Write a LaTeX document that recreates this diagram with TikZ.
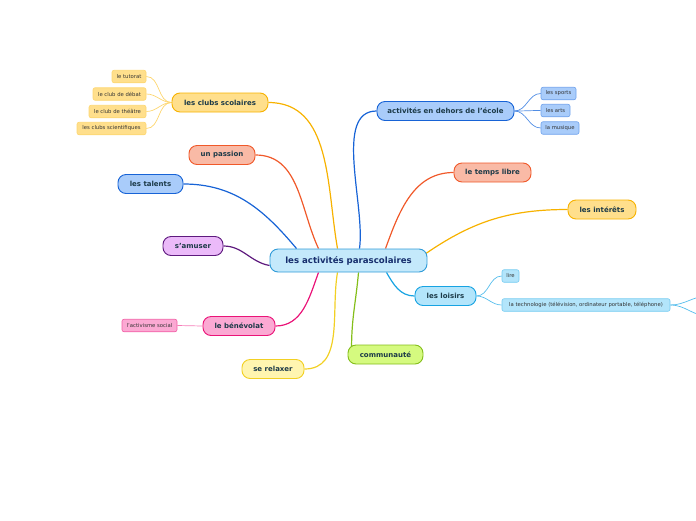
\documentclass[tikz,border=0pt]{standalone}
\usepackage{fontspec}
\setmainfont{DejaVu Sans}
\usetikzlibrary{backgrounds}

\begin{document}
\begin{tikzpicture}[x=1pt, y=-1pt,
    topic/.style={draw, rounded corners=8pt, line width=0.9pt, text=textColour,
        font=\fontsize{7}{8}\selectfont\bfseries, minimum height=19pt, inner sep=0pt},
    subtopic/.style={draw, rounded corners=2pt, line width=0.6pt, text=subTextColour,
        font=\fontsize{5.3}{6}\selectfont, minimum height=12.5pt, inner sep=0pt},
    link/.style={line width=1.2pt},
    sublink/.style={line width=0.7pt}]

    % Define colours
    \definecolor{textColour}{HTML}{1C3A48}
    \definecolor{subTextColour}{HTML}{333333}
    \definecolor{centreFill}{HTML}{C4E9FB}
    \definecolor{centreBorder}{HTML}{2F9BD8}
    \definecolor{orangeFill}{HTML}{FFDF8C}
    \definecolor{orangeBorder}{HTML}{F7B200}
    \definecolor{salmonFill}{HTML}{F9BAA6}
    \definecolor{salmonBorder}{HTML}{F0592A}
    \definecolor{blueFill}{HTML}{A9CCFA}
    \definecolor{blueBorder}{HTML}{1763D6}
    \definecolor{purpleFill}{HTML}{EBBAF9}
    \definecolor{purpleBorder}{HTML}{5E1A7E}
    \definecolor{pinkFill}{HTML}{FBA9D3}
    \definecolor{pinkBorder}{HTML}{EA1478}
    \definecolor{yellowFill}{HTML}{FFF5B0}
    \definecolor{yellowBorder}{HTML}{F2D023}
    \definecolor{greenFill}{HTML}{D5FA7F}
    \definecolor{greenBorder}{HTML}{84BE1A}
    \definecolor{skyFill}{HTML}{B3E5FB}
    \definecolor{skyBorder}{HTML}{17A3E2}

    % Page size
    \useasboundingbox (0,0) rectangle (696,520);

    % Central topic
    \node[topic, fill=centreFill, draw=centreBorder, minimum width=157pt, minimum height=23pt,
        font=\fontsize{8.6}{10}\selectfont\bfseries, text=textColour!80!blue] (centre) at (348.5,260.5)
        {les activités parascolaires};

    % Main topics
    \node[topic, fill=orangeFill, draw=orangeBorder, minimum width=96pt] (clubs) at (220,102.5) {les clubs scolaires};
    \node[topic, fill=salmonFill, draw=salmonBorder, minimum width=66pt] (passion) at (222,155) {un passion};
    \node[topic, fill=blueFill, draw=blueBorder, minimum width=65pt] (talents) at (150.5,184) {les talents};
    \node[topic, fill=purpleFill, draw=purpleBorder, minimum width=60pt] (amuser) at (193,246) {s'amuser};
    \node[topic, fill=pinkFill, draw=pinkBorder, minimum width=72pt] (benevolat) at (239,326) {le bénévolat};
    \node[topic, fill=yellowFill, draw=yellowBorder, minimum width=62pt] (relaxer) at (273,369) {se relaxer};
    \node[topic, fill=greenFill, draw=greenBorder, minimum width=75pt] (communaute) at (385.5,354.5) {communauté};
    \node[topic, fill=skyFill, draw=skyBorder, minimum width=61pt] (loisirs) at (445.5,296) {les loisirs};
    \node[topic, fill=orangeFill, draw=orangeBorder, minimum width=68pt] (interets) at (602,209.5) {les intérêts};
    \node[topic, fill=salmonFill, draw=salmonBorder, minimum width=77pt] (tempslibre) at (492.5,172.5) {le temps libre};
    \node[topic, fill=blueFill, draw=blueBorder, minimum width=137pt] (dehors) at (445.5,111) {activités en dehors de l'école};

    % Subtopics of les clubs scolaires
    \node[subtopic, fill=orangeFill, draw=orangeFill!80!orangeBorder, minimum width=34pt] (tutorat) at (129,76.5) {le tutorat};
    \node[subtopic, fill=orangeFill, draw=orangeFill!80!orangeBorder, minimum width=53pt] (debat) at (119.5,94) {le club de débat};
    \node[subtopic, fill=orangeFill, draw=orangeFill!80!orangeBorder, minimum width=57pt] (theatre) at (117.5,111.5) {le club de théâtre};
    \node[subtopic, fill=orangeFill, draw=orangeFill!80!orangeBorder, minimum width=69pt] (sciences) at (111.5,128.5) {les clubs scientifiques};

    % Subtopics of activités en dehors de l'école
    \node[subtopic, fill=blueFill, draw=blueFill!60!blueBorder, minimum width=35pt] (sports) at (558.5,93.5) {les sports};
    \node[subtopic, fill=blueFill, draw=blueFill!60!blueBorder, minimum width=29pt] (arts) at (555.5,110.5) {les arts};
    \node[subtopic, fill=blueFill, draw=blueFill!60!blueBorder, minimum width=38pt] (musique) at (560,128) {la musique};

    % Subtopics of les loisirs
    \node[subtopic, fill=skyFill, draw=skyFill!60!skyBorder, minimum width=17pt] (lire) at (510.5,276) {lire};
    \node[subtopic, fill=skyFill, draw=skyFill!60!skyBorder, minimum width=168pt] (technologie) at (586,305)
        {la technologie (télévision, ordinateur portable, téléphone)};
    \coordinate (techUp) at (708,296);
    \coordinate (techDown) at (708,316);

    % Subtopic of le bénévolat
    \node[subtopic, fill=pinkFill, draw=pinkFill!50!pinkBorder, minimum width=55pt] (activisme) at (149.5,325.5) {l'activisme social};

    % Draw the connectors behind the nodes
    \begin{pgfonlayer}{background}
        \draw[link, orangeBorder] ([xshift=-11pt]centre.north) to[out=100, in=0] (clubs.east);
        \draw[link, salmonBorder] ([xshift=-30pt]centre.north) to[out=115, in=0] (passion.east);
        \draw[link, blueBorder] ([xshift=-52pt]centre.north) to[out=130, in=0] (talents.east);
        \draw[link, purpleBorder] ([yshift=-5pt]centre.west) to[out=170, in=0] (amuser.east);
        \draw[link, pinkBorder] ([xshift=-30pt]centre.south) to[out=-110, in=0] (benevolat.east);
        \draw[link, yellowBorder] ([xshift=-11pt]centre.south) to[out=-100, in=0] (relaxer.east);
        \draw[link, greenBorder] ([xshift=10pt]centre.south) to[out=-95, in=90] ([xshift=4pt,yshift=-3pt]communaute.north west);
        \draw[link, skyBorder] ([xshift=38pt]centre.south) to[out=-60, in=180] (loisirs.west);
        \draw[link, orangeBorder] ([xshift=-6pt,yshift=-8pt]centre.north east) to[out=35, in=180] (interets.west);
        \draw[link, salmonBorder] ([xshift=37pt]centre.north) to[out=70, in=180] (tempslibre.west);
        \draw[link, blueBorder] ([xshift=11pt]centre.north) to[out=82, in=180, looseness=0.8] (dehors.west);

        % Subtopic connectors
        \foreach \sub in {tutorat, debat, theatre, sciences}
            \draw[sublink, orangeFill!80!orangeBorder] (clubs.west) to[out=180, in=0] (\sub.east);
        \foreach \sub in {sports, arts, musique}
            \draw[sublink, blueFill!40!blueBorder] (dehors.east) to[out=0, in=180] (\sub.west);
        \foreach \sub in {lire, technologie}
            \draw[sublink, skyFill!40!skyBorder] (loisirs.east) to[out=0, in=180] (\sub.west);
        \foreach \sub in {techUp, techDown}
            \draw[sublink, skyFill!40!skyBorder] (technologie.east) to[out=0, in=180] (\sub);
        \draw[sublink, pinkFill!70!pinkBorder] (benevolat.west) -- (activisme.east);
    \end{pgfonlayer}

\end{tikzpicture}
\end{document}
